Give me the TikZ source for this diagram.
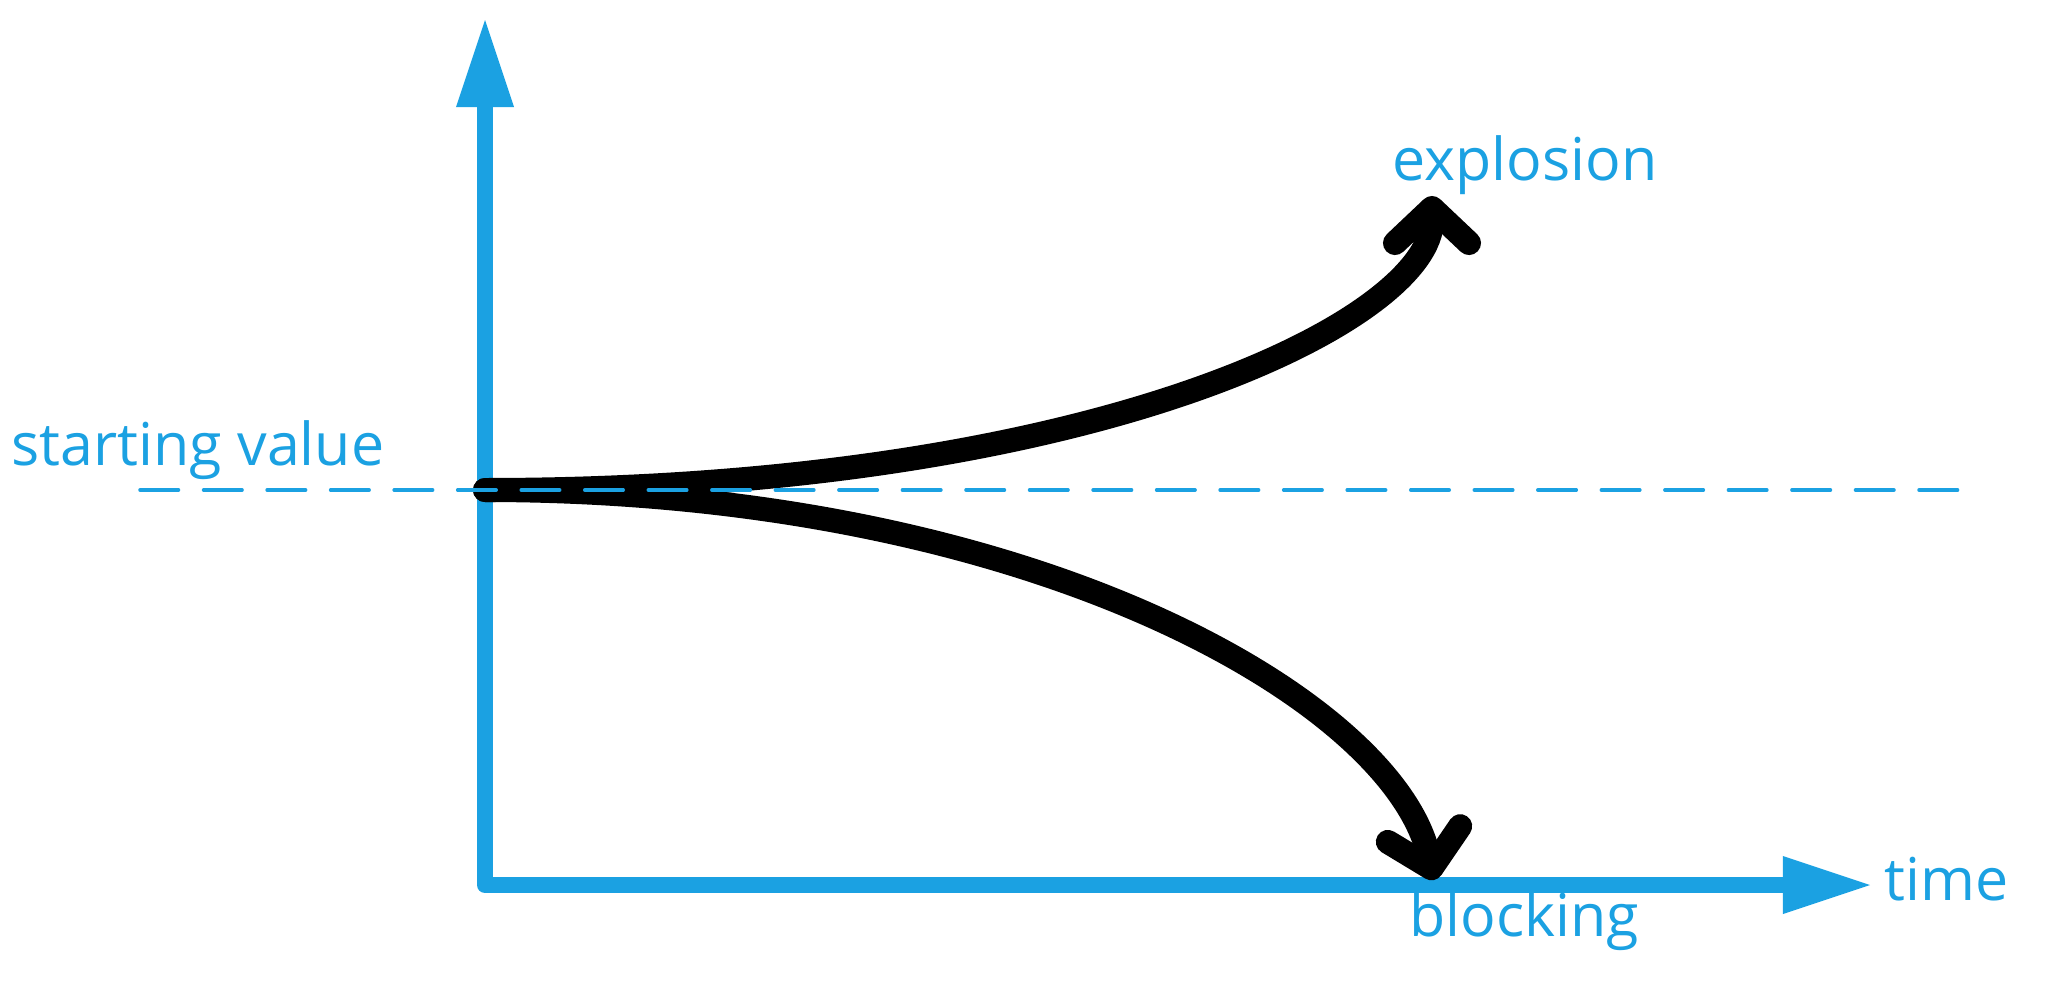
\documentclass[tikz,border=0pt]{standalone}
\usepackage{fontspec}
\setmainfont{Open Sans}
\usetikzlibrary{arrows.meta}
\definecolor{metroblue}{RGB}{27,161,226}
\tikzset{
  px/.style={x=0.01cm,y=-0.01cm},
  axisline/.style={draw=metroblue,line width=0.16cm,line join=round,
    >={Triangle[length=0.87cm,width=0.58cm,line width=0pt]},<->},
  trend/.style={draw=black,line width=0.24cm,line cap=round,
    -{Straight Barb[length=0.35cm,width=0.74cm,round]}},
  refline/.style={draw=metroblue,line width=0.035cm,line cap=round,
    dash pattern=on 0.385cm off 0.25cm},
  lbl/.style={text=metroblue,font=\fontsize{16.8pt}{20pt}\selectfont,
    inner sep=0pt,anchor=base west},
}
\begin{document}
\begin{tikzpicture}[px]
\useasboundingbox (0,0) rectangle (2056,987);
% axes
\coordinate (origin) at (485,885);
\coordinate (ytip) at (485,20);
\coordinate (xtip) at (1870,885);
\draw[axisline] (ytip) -- (origin) -- (xtip);
% the two courses from the starting value
\coordinate (start) at (485,490);
\coordinate (boom) at (1432,196);
\coordinate (stall) at (1434,880);
\draw[trend] (start) .. controls (1101,490) and (1432,318) .. (boom);
\draw[trend] (start) .. controls (1040,490) and (1396,705) .. (stall);
% level of the starting value
\coordinate (refL) at (140,490);
\coordinate (refR) at (1958,490);
\draw[refline] (refL) -- (refR);
% labels
\node[lbl] (lblstart) at (11,465) {starting value};
\node[lbl] (lblboom) at (1392,180) {explosion};
\node[lbl] (lblstall) at (1409,936) {blocking};
\node[lbl] (lbltime) at (1884,900) {time};
\end{tikzpicture}
\end{document}
